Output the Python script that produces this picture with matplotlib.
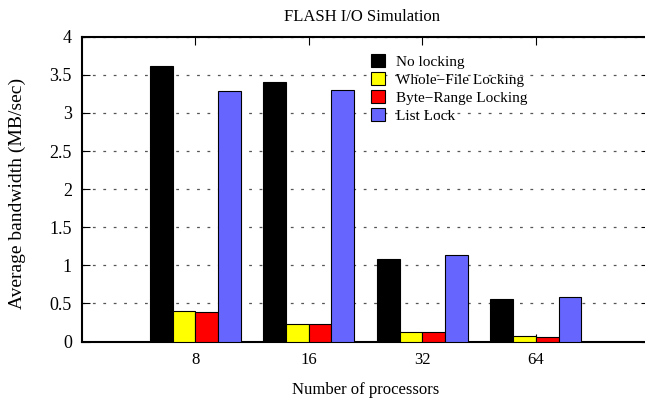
import matplotlib
matplotlib.use("Agg")
import matplotlib.pyplot as plt
import numpy as np
from matplotlib.patches import Patch

plt.rcParams['font.family'] = ['Liberation Serif', 'DejaVu Serif']
plt.rcParams['lines.scale_dashes'] = False

categories = ["8", "16", "32", "64"]
series_names = ["No locking", "Whole\u2212File Locking", "Byte\u2212Range Locking", "List Lock"]
no_locking = [3.62, 3.41, 1.08, 0.56]
whole_file = [0.40, 0.23, 0.13, 0.07]
byte_range = [0.385, 0.23, 0.13, 0.065]
list_lock = [3.29, 3.30, 1.14, 0.585]
colors = ["#000000", "#ffff00", "#ff0000", "#6666ff"]
yticks = [0, 0.5, 1, 1.5, 2, 2.5, 3, 3.5, 4]
ytick_labels = ["0", "0.5", "1", "1.5", "2", "2.5", "3", "3.5", "4"]

W, H = 645, 400
fig = plt.figure(figsize=(W / 100, H / 100), dpi=100)
left_px, right_px, top_px, bot_px = 81.7, 649.4, 36.7, 341.5
ax = fig.add_axes([left_px / W, 1 - bot_px / H, (right_px - left_px) / W, (bot_px - top_px) / H])

x = np.arange(len(categories))
width = 0.2
series = [no_locking, whole_file, byte_range, list_lock]
offsets = [-0.3, -0.1, 0.1, 0.3]
handles = []
for vals, off, col, name in zip(series, offsets, colors, series_names):
    ax.bar(x + off, vals, width, color=col, edgecolor="#000000", linewidth=0.8, zorder=3, label=name)
    handles.append(Patch(facecolor=col, edgecolor="#000000", linewidth=0.8, label=name))

ax.set_xlim(-1, 4)
ax.set_ylim(0, 4)
ax.set_xticks(x)
ax.set_xticklabels(categories)
ax.set_yticks(yticks)
ax.set_yticklabels(ytick_labels)

fs = 12
ax.tick_params(axis='both', direction='in', length=6, width=0.8,
               top=True, right=True, bottom=True, left=True)
ax.tick_params(axis='x', pad=7.5, labelsize=fs)
ax.tick_params(axis='y', pad=7, labelsize=13)
for s in ax.spines.values():
    s.set_linewidth(1.5)

ax.set_axisbelow(True)
ax.yaxis.grid(True, linestyle=(0, (2, 5.5)), linewidth=0.9, color="#555555")
ax.xaxis.grid(False)

fig.text(362 / W, 1 - 17 / H, "FLASH I/O Simulation", ha='center', va='center', fontsize=fs)
fig.text((left_px + right_px) / 2 / W, 1 - 390 / H, "Number of processors", ha='center', va='center', fontsize=fs)
fig.text(17 / W, 1 - 193 / H, "Average bandwidth (MB/sec)", ha='center', va='center', rotation=90, fontsize=14)

fig.legend(handles=handles, loc='upper left', bbox_to_anchor=(370.7 / W, 1 - 54 / H),
           bbox_transform=fig.transFigure, frameon=False, fontsize=11,
           handlelength=0.95, handleheight=0.95, handletextpad=0.7, labelspacing=0.2,
           borderpad=0, borderaxespad=0)

fig.savefig("out.png", dpi=100)
